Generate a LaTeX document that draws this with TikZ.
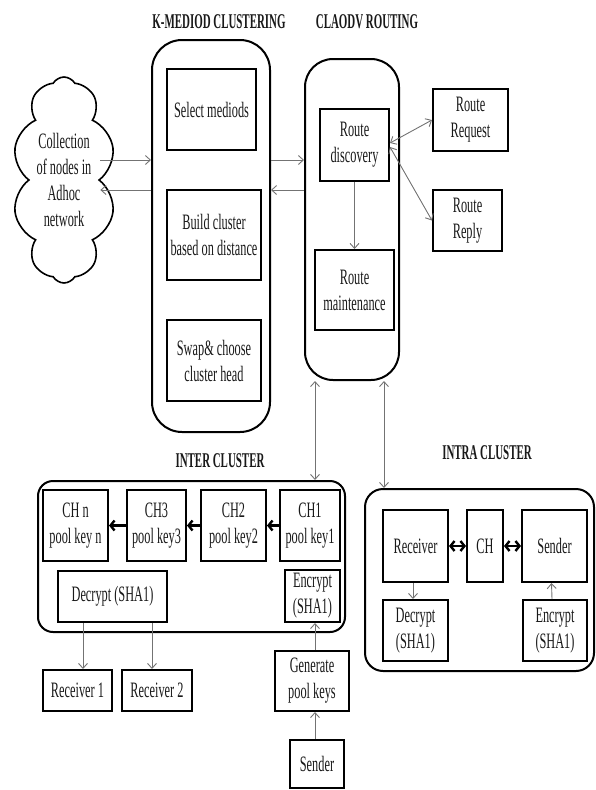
\documentclass[tikz,border=0pt]{standalone}
\usepackage{fontspec}
\setmainfont{Liberation Serif}[FakeStretch=0.56]
\newfontfamily\titlefont{Liberation Serif}[FakeStretch=0.52]
\usetikzlibrary{arrows.meta,shapes.symbols}
\begin{document}
\begin{tikzpicture}[x=1pt,y=-1pt,
  box/.style={draw, line width=2pt, align=center, inner sep=0pt, text=black!90,
    font=\fontsize{22}{26}\selectfont},
  bigbox/.style={draw, line width=2pt, rounded corners=#1, inner sep=0pt},
  ttl/.style={font=\titlefont\bfseries\fontsize{21}{24}\selectfont, text=black!90},
  arr/.style={draw=black!55, line width=0.9pt, -{Straight Barb[length=5pt,width=9pt]}},
  darr/.style={draw=black!55, line width=0.9pt, {Straight Barb[length=5pt,width=9pt]}-{Straight Barb[length=5pt,width=9pt]}},
  tharr/.style={line width=2.4pt, -{Straight Barb[length=4pt,width=10pt]}},
  thdarr/.style={line width=2.4pt, {Straight Barb[length=4pt,width=10pt]}-{Straight Barb[length=4pt,width=10pt]}}
]
\useasboundingbox (0,0) rectangle (596,790);

% titles
\node[ttl] (tk) at (219,22) {K-MEDIOD CLUSTERING};
\node[ttl] (tc) at (367,22) {CLAODV ROUTING};
\node[ttl] (ti) at (220,461) {INTER CLUSTER};
\node[ttl] (tr) at (487,453) {INTRA CLUSTER};

% big containers
\node[bigbox=30pt, minimum width=118pt, minimum height=392pt] (kmed) at (211,236) {};
\node[bigbox=28pt, minimum width=94pt, minimum height=321pt] (clao) at (352,219.5) {};
\node[bigbox=15pt, minimum width=307pt, minimum height=151pt] (inter) at (191.5,556.5) {};
\node[bigbox=18pt, minimum width=229pt, minimum height=182pt] (intra) at (479.5,580) {};

% cloud
\node[cloud, draw, line width=1.6pt, cloud puffs=10, cloud puff arc=120, aspect=0.5,
  inner sep=0pt, minimum width=103pt, minimum height=206pt, align=center, text=black!90,
  font=\fontsize{22}{26}\selectfont] (cloud) at (64,180) {Collection\\of nodes in\\Adhoc\\network};

% k-mediod boxes
\node[box, minimum width=89pt, minimum height=81pt] (sel) at (211.5,109.5) {Select mediods};
\node[box, minimum width=94pt, minimum height=90pt] (build) at (214,235) {Build cluster\\based on distance};
\node[box, minimum width=94pt, minimum height=81pt] (swap) at (214,360.5) {Swap\& choose\\cluster head};

% claodv boxes
\node[box, minimum width=69pt, minimum height=72pt] (disc) at (354.5,145) {Route\\discovery};
\node[box, minimum width=79pt, minimum height=80pt] (maint) at (354.5,290) {Route\\maintenance};
\node[box, minimum width=75pt, minimum height=62pt] (req) at (470.5,120) {Route\\Request};
\node[box, minimum width=69pt, minimum height=61pt] (reply) at (467.5,220.5) {Route\\Reply};

% inter cluster
\node[box, minimum width=65pt, minimum height=71pt] (chn) at (75.5,525.5) {CH n\\pool key n};
\node[box, minimum width=59pt, minimum height=71pt] (ch3) at (156.5,525.5) {CH3\\pool key3};
\node[box, minimum width=65pt, minimum height=71pt] (ch2) at (233.5,525.5) {CH2\\pool key2};
\node[box, minimum width=60pt, minimum height=71pt] (ch1) at (310,525.5) {CH1\\pool key1};
\node[box, minimum width=109pt, minimum height=51pt] (dec) at (112.5,596.5) {Decrypt (SHA1)};
\node[box, minimum width=55pt, minimum height=52pt] (enc) at (312.5,596) {Encrypt\\(SHA1)};
\node[box, minimum width=69pt, minimum height=41pt] (r1) at (77.5,690.5) {Receiver 1};
\node[box, minimum width=70pt, minimum height=41pt] (r2) at (157,690.5) {Receiver 2};
\node[box, minimum width=74pt, minimum height=60pt] (gen) at (312,681) {Generate\\pool keys};
\node[box, minimum width=54pt, minimum height=48pt] (snd) at (317,764) {Sender};

% intra cluster
\node[box, minimum width=65pt, minimum height=72pt] (rcv) at (415.5,546) {Receiver};
\node[box, minimum width=36pt, minimum height=72pt] (ch) at (485,546) {CH};
\node[box, minimum width=65pt, minimum height=72pt] (isnd) at (554.5,546) {Sender};
\node[box, minimum width=65pt, minimum height=61pt] (idec) at (415.5,630.5) {Decrypt\\(SHA1)};
\node[box, minimum width=64pt, minimum height=61pt] (ienc) at (555,630.5) {Encrypt\\(SHA1)};

% helper coordinates
\coordinate (ya) at (0,160);
\coordinate (yb) at (0,190);
\coordinate (xa) at (315,0);
\coordinate (xb) at (384,0);

% connectors
\draw[arr] (cloud.east |- ya) -- (kmed.west |- ya);
\draw[arr] (kmed.west |- yb) -- (cloud.east |- yb);
\draw[arr] (kmed.east |- ya) -- (clao.west |- ya);
\draw[arr] (clao.west |- yb) -- (kmed.east |- yb);
\draw[arr] (disc.south) -- (maint.north);
\draw[darr] ([yshift=2pt]disc.east) -- (req.west);
\draw[darr] ([yshift=-2pt]disc.east) -- (reply.west);
\draw[darr] (clao.south -| xa) -- (inter.north -| xa);
\draw[darr] (clao.south -| xb) -- (intra.north -| xb);

\draw[tharr] (ch1.west) -- (ch2.east);
\draw[tharr] (ch2.west) -- (ch3.east);
\draw[tharr] (ch3.west) -- (chn.east);
\draw[arr] ([xshift=5.5pt]r1.north |- dec.south) -- ([xshift=5.5pt]r1.north);
\draw[arr] ([xshift=-5pt]r2.north |- dec.south) -- ([xshift=-5pt]r2.north);
\draw[arr] (snd.north -| xa) -- (gen.south -| xa);
\draw[arr] (gen.north -| xa) -- (enc.south -| xa);

\draw[thdarr] (rcv.east) -- (ch.west);
\draw[thdarr] (ch.east) -- (isnd.west);
\draw[arr] ([xshift=-2.5pt]rcv.south) -- ([xshift=-2.5pt]idec.north);
\draw[arr] ([xshift=-3pt]ienc.north) -- ([xshift=-3pt]isnd.south);
\end{tikzpicture}
\end{document}
